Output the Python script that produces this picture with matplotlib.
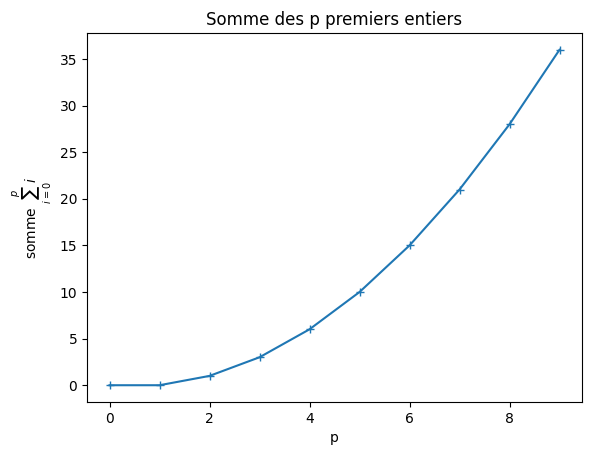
#!/usr/bin/env python3

import matplotlib
matplotlib.use("Agg")
import matplotlib.pyplot as plt

p_values = [0, 1, 2, 3, 4, 5, 6, 7, 8, 9]
sums = [0, 0, 1, 3, 6, 10, 15, 21, 28, 36]


def main():
    fig = plt.figure(figsize=(5.92, 4.55), dpi=100)
    ax = fig.add_axes([87 / 592, 1 - 402 / 455, (582 - 87) / 592, (402 - 33) / 455])
    ax.plot(p_values, sums, "+-")
    ax.set_title("Somme des p premiers entiers")
    ax.set_xlabel("p")
    ax.set_ylabel(r"somme $\sum_{i=0}^{p} i$")
    fig.savefig("out.png", dpi=100)
    return 0


if __name__ == '__main__':
    main()
